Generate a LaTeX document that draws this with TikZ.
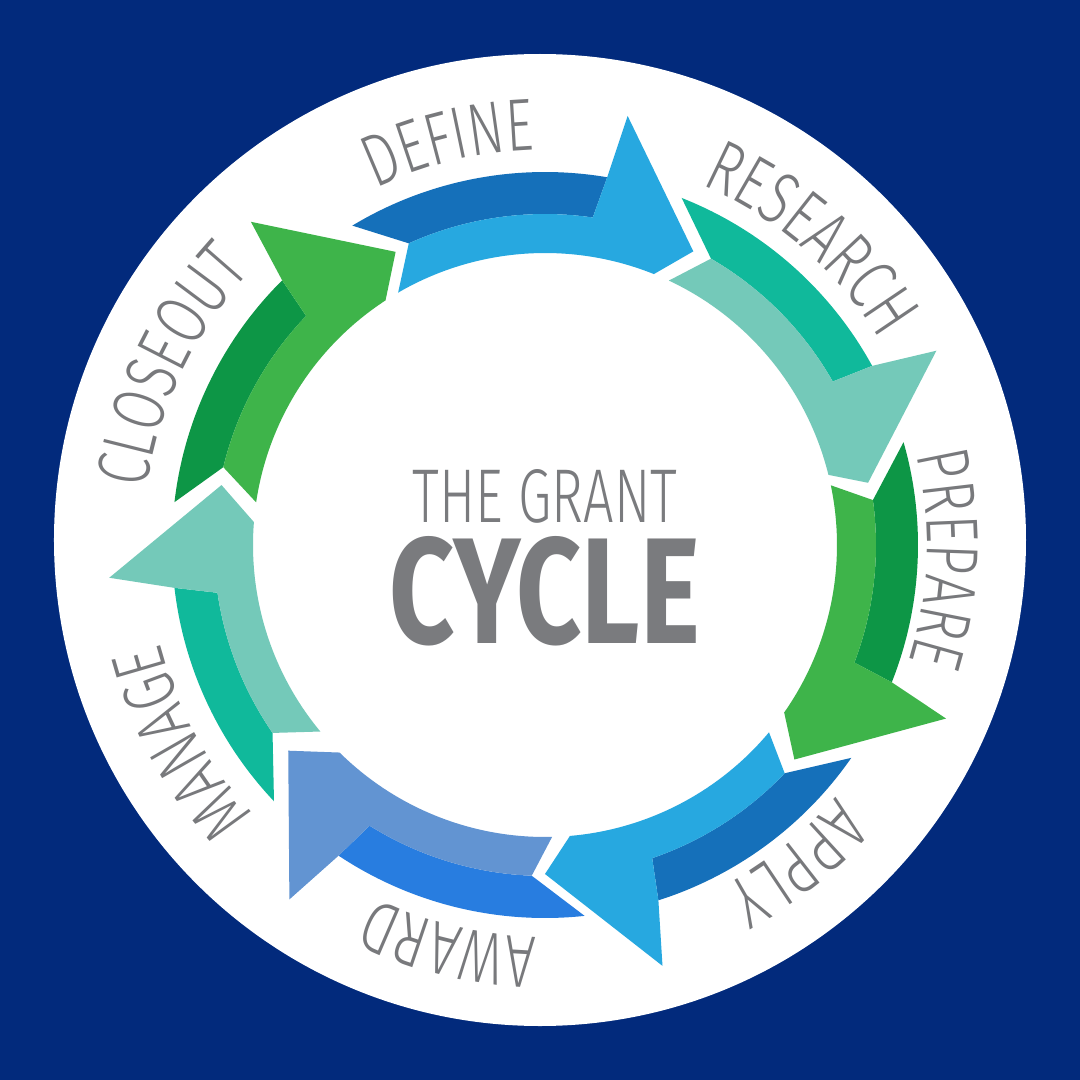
\documentclass[tikz,border=0pt]{standalone}
\usepackage{fontspec}
\usepackage{graphicx}
\usetikzlibrary{decorations.text}
\IfFontExistsTF{Fira Sans Light}
  {\newfontfamily\lblfont[FakeStretch=0.72]{Fira Sans Light}}
  {\newfontfamily\lblfont[FakeStretch=0.72]{Fira Sans}}
\newfontfamily\heavyfont{Fira Sans}
\definecolor{navy}{RGB}{2,42,124}
\definecolor{lblgray}{RGB}{120,121,124}
\definecolor{ctrgray}{RGB}{122,123,126}
\definecolor{blueo}{RGB}{21,112,186}
\definecolor{bluei}{RGB}{39,168,224}
\definecolor{tealo}{RGB}{16,185,155}
\definecolor{teali}{RGB}{116,201,185}
\definecolor{greeno}{RGB}{13,150,70}
\definecolor{greeni}{RGB}{62,180,74}
\definecolor{awardo}{RGB}{40,125,224}
\definecolor{awardi}{RGB}{98,148,210}
\def\Ro{373}\def\Rm{331}\def\Ri{292}\def\Rb{437}\def\Rt{329}
% #1 tail outer, #2 notch, #3 tail inner, #4 outer end, #5 barb, #6 tip, #7 inner end, #8 split, #9 colour prefix
\newcommand\arrowseg[9]{%
  \fill[#9o] (#1:\Ro) arc[start angle=#1,end angle=#4,radius=\Ro] -- (#8:\Rm)
     arc[start angle=#8,end angle=#2,radius=\Rm] -- cycle;
  \fill[#9i] (#2:\Rm) arc[start angle=#2,end angle=#8,radius=\Rm] -- (#4:\Ro) -- (#5:\Rb)
     -- (#6:\Rt) -- (#7:\Ri) arc[start angle=#7,end angle=#3,radius=\Ri] -- cycle;
}
\newcommand\steplabel[4]{%
  \path[decorate,decoration={text along path,text align=center,
    text={|\lblfont\fontsize{74}{74}\selectfont\color{lblgray}|#4}}]
    (#1:#3) arc[start angle=#1,end angle=#2,radius=#3];
}
\begin{document}
\begin{tikzpicture}[x=1pt,y=1pt]
\useasboundingbox (-545,-535) rectangle (535,545);
\fill[navy] (-545,-535) rectangle (535,545);
\fill[white] (-5,5) circle[radius=486];
% arrows
\arrowseg{121.1}{114.3}{120.2}{80.4}{79.1}{63.2}{68.1}{81.7}{blue}
\arrowseg{68.5}{59.9}{64.9}{28.7}{26.4}{10.9}{13.9}{29.6}{teal}
\arrowseg{16.0}{7.8}{11.8}{-21.6}{-23.4}{-40.7}{-35.0}{-20.8}{green}
\arrowseg{-34.8}{-43.6}{-39.9}{-72.3}{-74.4}{-90.0}{-85.1}{-71.1}{blue}
\arrowseg{-83.9}{-92.3}{-88.6}{-123.6}{-125.8}{-141.3}{-134.7}{-122.0}{award}
\arrowseg{-136.6}{-145.4}{-140.3}{-173.4}{-175.7}{-190.5}{-184.5}{-171.7}{teal}
\arrowseg{173.4}{166.4}{171.6}{134.8}{132.3}{117.0}{123.1}{136.2}{green}
% labels
\steplabel{133.5}{73.5}{395}{DEFINE}
\steplabel{79}{19}{393}{RESEARCH}
\steplabel{28}{-32}{382}{PREPARE}
\steplabel{-21.5}{-81.5}{385}{APPLY}
\steplabel{-73.5}{-133.5}{392}{AWARD}
\steplabel{-121.5}{-181.5}{397}{MANAGE}
\steplabel{184.5}{124.5}{402}{CLOSEOUT}
% centre
\node[inner sep=0] (title) at (0,48.5) {\resizebox{264pt}{53pt}{\lblfont\color{ctrgray}THE GRANT}};
\node[inner sep=0] (cycle) at (0,-46.5) {\resizebox{310pt}{107pt}{\heavyfont\bfseries\color{ctrgray}CYCLE}};
\end{tikzpicture}
\end{document}
